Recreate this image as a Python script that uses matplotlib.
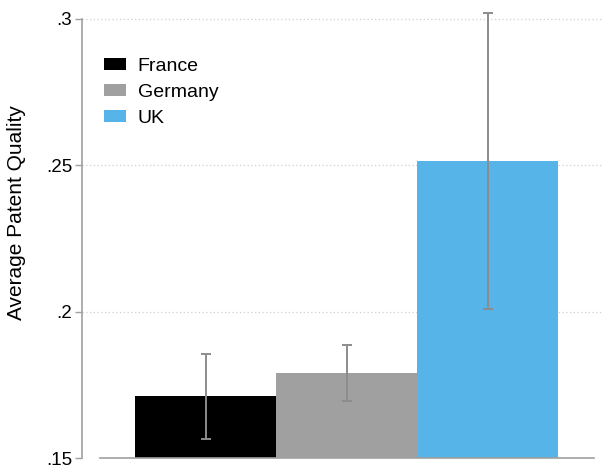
import matplotlib.pyplot as plt
import numpy as np

plt.rcParams['font.family'] = ['Liberation Sans', 'DejaVu Sans']

# average patent quality by country, with confidence bounds
countries = ['France', 'Germany', 'UK']
quality = [0.1712, 0.1791, 0.2515]
ci_low = [0.1565, 0.1696, 0.2009]
ci_high = [0.1857, 0.1885, 0.3022]
colors = ['#000000', '#a0a0a0', '#56b4e9']

yticks = [0.15, 0.2, 0.25, 0.3]
ytick_labels = ['.15', '.2', '.25', '.3']

fig = plt.figure(figsize=(6.05, 4.69), dpi=100)
ax = fig.add_axes([82 / 605, 11 / 469, 521 / 605, 458 / 469])

x = np.arange(len(countries))
bars = ax.bar(x, quality, width=1.0, color=colors, zorder=2)
for b, c in zip(bars, countries):
    b.set_label(c)

q = np.array(quality)
err = [q - np.array(ci_low), np.array(ci_high) - q]
ax.errorbar(x, q, yerr=err, fmt='none', ecolor='#8c8c8c', elinewidth=1.4,
            capsize=3.5, capthick=1.4, zorder=3)

ax.set_xlim(-0.876, 2.819)
ax.set_ylim(0.15, 0.3 + 19 / 2927)

for t in yticks:
    ax.axhline(t, color='#d0d0d0', lw=0.9, ls=(0, (1, 2)), zorder=0)
# category axis line
ax.plot([-0.748, 2.755], [0.15, 0.15], color='#a0a0a0', lw=1.2, zorder=4,
        clip_on=False)

ax.set_yticks(yticks)
ax.set_yticklabels(ytick_labels, fontsize=13.5)
ax.tick_params(axis='y', length=5, color='#a0a0a0', width=1.0, pad=2)
ax.set_xticks([])
for s in ['top', 'right', 'bottom']:
    ax.spines[s].set_visible(False)
ax.spines['left'].set_color('#a0a0a0')
ax.spines['left'].set_linewidth(1.2)
ax.spines['left'].set_bounds(0.15, 0.3)

ax.set_ylabel('Average Patent Quality', fontsize=15)
ax.yaxis.set_label_coords(-0.1075, 0.535)

ax.legend(loc='upper left', bbox_to_anchor=(0.017, 0.903), frameon=False,
          fontsize=14, handlelength=1.13, handleheight=0.57,
          labelspacing=0.47, handletextpad=0.57, borderpad=0.2)

fig.savefig('out.png', dpi=100)
